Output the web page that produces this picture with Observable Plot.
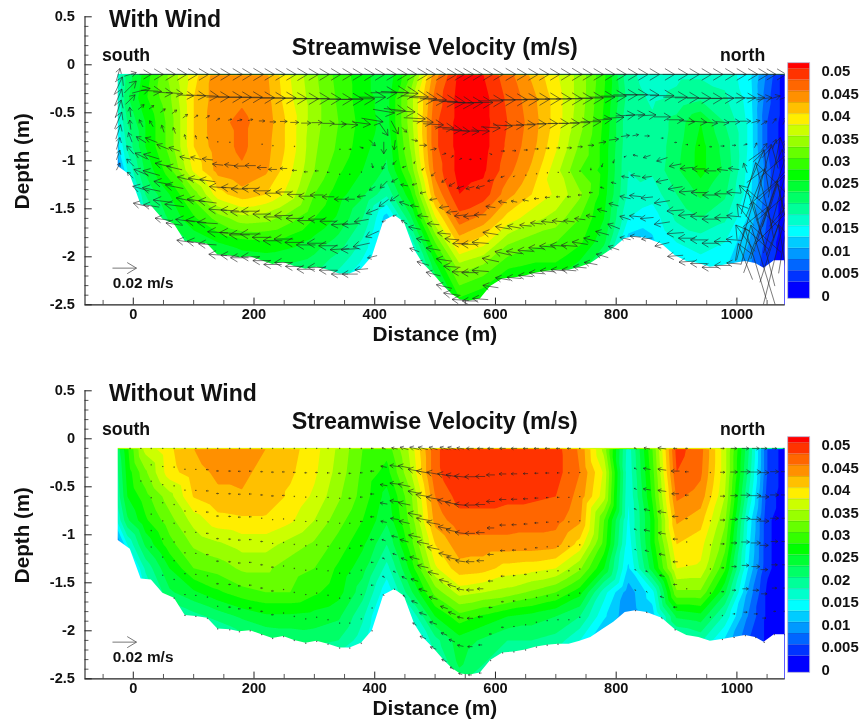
<!DOCTYPE html>
<html><head><meta charset="utf-8">
<script src="https://cdn.jsdelivr.net/npm/d3@7"></script>
<script src="https://cdn.jsdelivr.net/npm/@observablehq/plot@0.6"></script>
<style>
html,body{margin:0;background:#fff}
#root{position:relative;width:862px;height:721px;overflow:hidden}
#root>svg{position:absolute;background:none;filter:blur(0.3px)}
</style></head><body><div id="root"></div>
<script>
// Velocity grid (mm/s): columns at gridX, one row per depth
const gridX=[-30,-10,20,60,100,140,180,220,260,300,340,380,420,460,500,540,580,620,660,700,740,780,820,860,900,940,980,1020,1050,1080];
const gridDepth=[-0.1,-0.35,-0.6,-0.85,-1.1,-1.35,-1.6,-1.85,-2.1,-2.35,-2.5];
const windV=[
[15,21,26,33,39,44,44.5,43,37.5,33,29,26,23,30,44,50.5,50,46,42,38,34,28,18,16.5,17,17,16.5,13.5,7,1],
[14,22,27,32,40,44,44.7,43.5,38,33.5,29.5,26,24,34,46,51,51,47,43.5,39,34,27.5,19,17,18,19.5,18,14,6,1],
[13,20,25,31,40,44.5,45.5,44,39,33.5,30,26.5,24,34,47,51,51,47.5,44,39,33.5,27,18,18,21,25,20,14.5,5,1],
[10,18,25,31,40,44,45.5,43.5,39,33,29.5,26,23,33,47,51,51,47,43.5,38,32,26.5,18,18,21.5,26,21.5,14.5,5,1],
[4,15,23,29,38,43.5,44.7,43,38,32.5,28,25,22,31,46,51,50.5,46,42,36,30,26.5,17.5,18,22,26,22,14,6,1],
[1,9,20,25,31,39,41.5,40,36.5,30,26,23,18,27,43,50,49,43.5,40,37,33,26,17,16,20,23,20.5,13.5,6,1],
[1,4,17,23,27,31,34,33.5,31,27.5,24.5,20,11,22,37,46.5,44,39,36,34,30,25,15,13.5,18,20,18,12,5,1],
[1,2,14,20,23,25,26.5,27,26,24,21.5,17,9,16,30,41,38.5,33,31,30,28,23,11,12,15,16,15,10,4,1],
[1,2,10,15,18,20,22,22.5,22,21,18,14,8,12,24,34,32,28,27,27,24,19,9,10,13,14,13,8,3,1],
[1,1,7,10,12,15,17,17,17,16,14,11,6,9,19,29,27,24,22,21,18,14,7,8,10,11,10,6,2,1],
[1,1,5,8,10,12,14,14,14,13,11,9,5,7,16,26,24,20,18,17,14,11,5,6,8,9,8,5,2,1]];
const calmV=[
[20,27,36,39.5,42.5,44.5,44.8,42.5,41,38.5,34.5,30,28.5,36,47,49.5,49,48.5,48.5,48.5,44.5,34,16,30,48.5,46,36,20,5,1],
[18,26,32,39,41.5,43,43,41.8,40.5,38,34,29.5,26.5,35,47,49,49,49,49,48.5,45,37,15.5,29,47.5,45.5,36,19,5,1],
[17,25,29,34,40.2,42,42.3,41.8,39.5,37,33,29,24,32,45,48.5,48.5,48,48,47.5,44,36,15,28,45.5,44,35,17,4,1],
[14,22,27,31.5,36,39,39.5,39.5,38,35,31,27.5,23,31,43.5,46.5,46.5,46.5,46,46,43,30,14.5,26,43,41,33,14,3,1],
[5,15,23,29,33,34.5,36,36,34,32,29,25.5,20,29,40,44,44,44,44,43.5,39,29,13.5,26,40,38.5,31,13,3,1],
[1,8,18,25,30,31,33,33,31,30,27,23.5,16.5,26,37,41.5,41,39,38.5,37.5,33,25,12,24,37.5,37,28,12,3,1],
[1,6,15,22,24.5,27,29,30,30,28,26,21,13,22,31,36,35,34,32,30,26,16,8.5,14,32,32,23,9,2,1],
[1,3,10,17,19,21,23,24.5,24.5,24,23,18,10,15,25,29,27,25,24,22.5,20,13,8,11,23,24,17,7,2,1],
[1,2,6,12,15,16,18.5,20,20.5,21,20,16,9,12,19,24,22,20,20,19,15,9,6,9,16,18,12,5,2,1],
[1,2,4,8,10,12,14,15,16,16,15,12,8,10,16,23,20,17,16,15,12,8,5,7,12,13,10,4,2,1],
[1,2,3,6,8,10,12,13,14,14,13,10,7,8,14,21,18,15,14,13,10,7,4,6,10,11,8,3,2,1]];

// Measuring stations and river bed depth (m)
const stations=[-25,-5,13,30,49,68,86,104,123,140,160,176,194,213,231,249,267,286,304,323,342,359,378,396,415,433,449,466,480,497,515,528,542,558,575,592,612,631,650,668,686,704,722,740,758,777,796,815,832,851,876,898,917,937,956,976,995,1014,1031,1045,1062,1079];
const bed=[-1.06,-1.15,-1.46,-1.47,-1.61,-1.66,-1.84,-1.85,-1.87,-1.98,-1.99,-2.01,-2.00,-2.04,-2.08,-2.06,-2.10,-2.13,-2.11,-2.14,-2.18,-2.18,-2.13,-2.00,-1.63,-1.57,-1.64,-1.93,-2.07,-2.18,-2.31,-2.39,-2.45,-2.46,-2.44,-2.31,-2.23,-2.22,-2.20,-2.17,-2.15,-2.14,-2.14,-2.11,-2.07,-1.99,-1.91,-1.81,-1.79,-1.81,-1.87,-1.99,-2.05,-2.07,-2.11,-2.09,-2.07,-2.05,-2.07,-2.12,-2.04,-2.04];

// Cross-stream vector components (mm/s) per sigma layer (0 = surface, 8 = bed)
const windU=[
[3,10,17,20,21,21,21,21,21,21,21,21,22,21,21,21,22,21,21,21,21,21,22,21,21,21,21,22,21,21,21,21,22,21,21,21,22,21,21,21,21,21,22,21,21,21,21,21,21,21,21,21,21,21,21,21,21,21,21,20,20,20],
[7,10,15,17,16,14,14,16,18,19,20,20,20,21,21,21,21,21,21,21,21,22,22,22,22,23,23,23,23,22,22,22,22,21,21,21,21,22,22,22,22,22,22,21,21,21,21,20,20,20,20,20,20,20,20,19,18,17,15,13,10,8],
[6,8,5,4,4,4,4,3,3,3,3,4,4,5,5,6,7,8,9,10,11,13,15,18,18,18,18,18,17,17,16,16,15,15,15,16,16,16,16,16,17,17,17,17,17,16,17,16,16,15,14,14,13,13,12,11,10,9,7,5,3,3],
[5,-1,-3,-3,-2,-2,-1,-1,-1,0,0,0,0,1,1,0,1,0,0,0,1,2,3,5,7,6,4,5,6,5,3,2,2,2,1,2,3,3,3,3,3,3,4,4,5,6,8,7,5,4,2,2,2,1,2,3,3,3,2,5,3,2],
[6,-1,-8,-10,-10,-9,-9,-9,-9,-9,-9,-9,-9,-8,-7,-6,-4,-3,-3,-2,-1,-1,0,1,0,-1,-1,-1,-2,-3,-4,-5,-6,-7,-7,-5,-3,-1,1,1,1,0,0,0,0,-1,-1,-2,-4,-6,-9,-10,-11,-11,-10,-9,-9,-3,14,12,10,-4],
[4,-3,-10,-13,-13,-13,-13,-13,-13,-14,-14,-14,-14,-14,-13,-13,-12,-12,-11,-10,-9,-8,-7,-5,-3,-3,-3,-4,-5,-6,-8,-9,-10,-11,-10,-8,-7,-5,-5,-4,-4,-3,-3,-3,-3,-3,-4,-6,-8,-8,-10,-12,-13,-13,-13,-13,-12,-10,16,-14,20,8],
[3,-6,-12,-14,-15,-15,-15,-15,-15,-15,-15,-15,-15,-15,-15,-15,-14,-14,-14,-14,-14,-13,-12,-10,-6,-5,-6,-7,-9,-10,-11,-12,-13,-14,-14,-13,-12,-11,-10,-10,-10,-10,-9,-9,-8,-8,-8,-9,-10,-10,-13,-14,-14,-14,-14,-13,-12,-14,-14,22,18,-12],
[3,-6,-14,-15,-16,-16,-16,-17,-17,-17,-17,-17,-17,-16,-16,-16,-16,-16,-16,-16,-16,-15,-14,-11,-8,-7,-8,-10,-11,-12,-13,-14,-14,-14,-14,-14,-13,-13,-13,-13,-13,-13,-13,-13,-12,-11,-10,-9,-10,-11,-13,-14,-14,-14,-14,-14,-13,-16,20,-18,24,10],
[3,-5,-13,-13,-13,-14,-14,-15,-15,-15,-15,-15,-15,-15,-15,-15,-15,-15,-15,-15,-14,-13,-11,-8,-3,-3,-5,-8,-10,-12,-13,-14,-14,-13,-13,-13,-12,-12,-12,-12,-12,-12,-12,-11,-11,-10,-9,-9,-9,-9,-12,-13,-13,-14,-14,-13,-12,-12,-18,-22,20,-10]];
const windW=[
[10,3,0,0,0,0,0,0,0,0,0,0,0,0,0,0,0,0,0,0,0,0,0,0,0,0,0,0,0,0,0,0,0,0,0,0,0,0,0,0,0,0,0,0,0,0,0,0,0,0,0,0,0,0,0,0,0,0,0,0,0,0],
[15,10,4,-1,-1,-1,-1,-1,-1,0,0,0,0,0,0,0,0,0,0,0,0,0,0,0,0,-1,-1,-1,-1,-1,-1,-1,-1,0,0,0,0,0,0,0,0,0,0,0,0,0,0,0,0,0,0,0,0,0,0,0,0,0,1,2,3,3],
[14,8,4,3,3,3,3,2,2,2,1,1,1,0,0,0,0,0,0,0,0,-1,-2,-3,-3,-2,-1,-1,-1,-1,-1,-1,-1,-1,-1,-1,-1,0,0,0,0,0,0,0,0,1,1,1,1,1,0,0,-1,-1,-1,-1,0,0,2,3,4,6],
[15,8,6,5,6,5,4,3,2,1,1,0,0,0,0,0,0,0,0,0,0,0,-1,-5,-10,-11,-4,-1,0,1,1,2,1,0,-1,-1,0,0,0,0,0,0,0,0,0,1,1,1,1,0,0,0,0,0,0,0,0,1,4,6,8,7],
[14,8,5,4,4,3,2,2,1,1,1,0,0,0,0,0,0,0,0,0,0,0,-1,-4,-10,-8,-2,-2,-2,-3,-3,-3,-2,-2,-2,-1,-1,-1,0,0,0,-1,-1,-1,-2,-3,-3,-1,1,-2,-3,-2,-1,0,0,1,1,8,32,45,50,30],
[12,8,5,4,3,3,3,2,2,1,1,0,0,0,0,0,0,0,0,0,0,0,-1,-3,-5,-3,-1,-1,-1,-1,-1,-1,-1,-1,0,1,1,1,1,0,0,0,0,0,0,1,1,1,1,-1,-2,-2,-1,0,0,0,1,10,40,55,60,40],
[10,7,5,4,3,3,3,2,2,1,1,0,0,0,0,0,0,0,0,0,-1,-1,-2,-4,-6,-3,1,1,1,1,1,1,0,0,1,2,2,2,1,1,1,1,1,1,1,2,2,2,1,-1,-2,-1,-1,0,0,0,1,18,45,65,65,50],
[8,6,4,3,2,2,2,2,1,1,1,0,0,0,0,0,0,0,0,0,-1,-1,-3,-5,-6,-5,3,2,2,2,2,1,0,0,1,3,3,2,1,1,1,1,1,2,3,3,4,3,1,-1,-2,-1,0,0,0,0,1,22,55,70,75,60],
[6,5,3,2,2,2,2,2,1,1,1,0,0,0,0,0,0,0,0,0,0,0,-1,-2,-1,-1,3,3,3,3,3,2,1,0,1,2,2,1,1,1,1,1,1,1,2,3,3,2,1,-1,-3,-1,-1,0,0,0,1,30,60,72,80,60]];
const calmU=[
[0,-1,-1,-1,-1,-1,-1,-1,-1,-1,-1,-1,-1,-1,-1,-1,-1,-1,-1,-1,-1,-1,-1,-2,-3,-5,-7,-8,-8,-7,-7,-7,-6,-6,-5,-5,-5,-5,-4,-4,-4,-3,-3,-1,0,0,0,0,-2,-5,-7,-3,-2,0,1,3,5,6,6,5,4,3],
[0,0,0,-1,-1,-1,-1,-1,-2,-2,-2,-2,-2,-2,-2,-2,-2,-2,-2,-2,-2,-2,-2,-3,-5,-8,-10,-11,-11,-11,-11,-10,-10,-9,-8,-7,-6,-5,-4,-3,-3,-2,-1,-1,0,0,0,0,-2,-6,-7,-7,-3,0,1,4,6,8,9,8,7,6],
[0,0,-1,-1,-1,-1,-1,-1,-2,-2,-2,-2,-2,-2,-2,-2,-1,-1,-1,-1,-1,-2,-2,-3,-6,-8,-10,-11,-12,-12,-11,-11,-10,-9,-8,-7,-6,-5,-4,-3,-2,-2,-1,-1,0,0,0,0,-2,-6,-7,-6,-3,0,1,4,6,8,9,8,7,6],
[0,0,0,-1,-1,-1,-1,-1,-2,-2,-2,-2,-2,-1,-1,-1,-1,-1,-1,-1,-1,-1,-2,-3,-6,-8,-10,-11,-11,-11,-10,-10,-9,-8,-7,-6,-5,-4,-3,-3,-2,-1,-1,-1,0,0,0,0,-2,-5,-7,-5,-2,0,1,4,6,8,9,8,7,5],
[0,0,0,-1,-1,-1,-1,-1,-2,-2,-2,-2,-2,-2,-1,-1,-1,-1,-1,-1,-1,-1,-2,-3,-5,-7,-9,-10,-10,-10,-9,-9,-8,-7,-6,-5,-4,-3,-2,-2,-1,-1,-1,-1,0,0,0,0,-2,-5,-6,-4,-1,0,1,3,5,7,8,7,6,5],
[0,0,0,-1,-1,-1,-1,-1,-2,-2,-2,-2,-2,-2,-2,-1,-1,-1,-1,-1,-1,-1,-1,-2,-3,-5,-7,-8,-9,-9,-8,-7,-6,-6,-5,-4,-3,-2,-2,-1,-1,-1,-1,-1,0,0,0,0,-1,-3,-5,-4,-1,0,1,2,4,6,7,6,5,4],
[0,0,0,-1,-1,-1,-1,-1,-1,-2,-2,-2,-2,-2,-2,-1,-1,-1,-1,-1,-1,-1,-1,-2,-2,-3,-5,-6,-7,-7,-6,-6,-5,-5,-4,-3,-2,-2,-1,-1,-1,-1,-1,-1,0,0,0,0,-1,-2,-4,-3,-1,0,1,2,3,5,5,5,4,3],
[0,0,0,0,-1,-1,-1,-1,-1,-1,-2,-2,-2,-2,-2,-1,-1,-1,-1,-1,-1,-1,-1,-1,-2,-2,-4,-5,-6,-6,-5,-5,-5,-4,-3,-2,-2,-1,-1,-1,-1,-1,-1,-1,0,0,0,0,-1,-1,-3,-3,0,0,1,1,2,3,3,3,2,2],
[0,0,0,0,0,-1,-1,-1,-1,-1,-1,-1,-1,-1,-1,-1,-1,-1,-1,-1,-1,-1,-1,-1,-1,-1,-2,-3,-5,-5,-4,-3,-3,-3,-2,-1,-1,-1,-1,-1,-1,-1,0,0,0,0,0,0,0,-1,-1,-1,0,0,0,1,1,1,1,1,1,1]];
const calmW=[0,0,0,0,0,0,0,0,0,0,0,0,0,0,0,0,0,0,0,0,0,0,0,0,1,1,2,2,2,2,2,2,1,0,0,0,0,0,0,0,0,0,0,0,0,0,0,0,1,1,1,0,0,0,0,0,0,0,0,0,0,0];

const xTicks=[0,200,400,600,800,1000];
const xMinor=[-50,50,100,150,250,300,350,450,500,550,650,700,750,850,900,950,1050];
const yTicks=[0.5,0,-0.5,-1,-1.5,-2,-2.5];
const yMinor=[0.4,0.3,0.2,0.1,-0.1,-0.2,-0.3,-0.4,-0.6,-0.7,-0.8,-0.9,-1.1,-1.2,-1.3,-1.4,-1.6,-1.7,-1.8,-1.9,-2.1,-2.2,-2.3,-2.4];
const levels=[2.5,5,7.5,10,12.5,15,17.5,20,22.5,25,27.5,30,32.5,35,37.5,40,42.5,45,47.5,50];
const contourLevels=[0,...levels];
const bandColors=["#0000ff","#0033ff","#0066ff","#0099ff","#00ccff","#00ffff","#00ffcc","#00ff99","#00ff66","#00ff33","#00ff00","#33ff00","#66ff00","#99ff00","#ccff00","#ffee00","#ffc000","#ff9000","#ff6600","#ff3300","#ff0000"];
const legendLabels=["0","0.005","0.01","0.015","0.02","0.025","0.03","0.035","0.04","0.045","0.05"];
const legendValues=[0,5,10,15,20,25,30,35,40,45,50];

const color={type:"threshold",domain:levels,range:bandColors};
const font={fontFamily:"'Liberation Sans',Arial,sans-serif",fontWeight:"bold",color:"#111",background:"none",overflow:"visible"};
const pxPerM=0.604,pxPerDepth=96,pxPerMM=1.2;

// An arrow (shaft and two wings) centred on its station, as three link segments in data units
function arrowSegments(x,d,u,w){
  const vx=u*pxPerMM,vy=w*pxPerMM,seg=[];
  const tipX=vx/2,tipY=vy/2;
  const toData=(px,py)=>[x+px/pxPerM,d+py/pxPerDepth];
  const add=(ax,ay,bx,by)=>{const [x1,y1]=toData(ax,ay),[x2,y2]=toData(bx,by);seg.push({x1,y1,x2,y2});};
  add(-tipX,-tipY,tipX,tipY);
  for(const a of [0.54,-0.54]){
    const c=Math.cos(a)*0.45,s=Math.sin(a)*0.45;
    add(tipX,tipY,tipX-(vx*c-vy*s),tipY-(vx*s+vy*c));
  }
  return seg;
}
function vectors(Us,getW){
  const out=[];
  Us.forEach((row,k)=>row.forEach((u,i)=>{
    // layers follow the bed: sigma coordinates between the -0.1 m surface row and the bed
    const d=-0.1+(k/8)*(bed[i]+0.1);
    out.push(...arrowSegments(stations[i],d,u,getW(k,i)));
  }));
  return out;
}
function field(rows){
  return rows.flatMap((r,j)=>r.map((v,i)=>({x:gridX[i],y:gridDepth[j],v})));
}
function panel(title,rows,arrowData,top){
  const bedData=[{x:-35,y:bed[0]},...stations.map((x,i)=>({x,y:bed[i]}))];
  const svg=Plot.plot({
    width:862,height:350,marginLeft:84.5,marginRight:77.3,marginTop:16.3,marginBottom:45.7,
    style:font,
    x:{domain:[-80,1080],axis:null},y:{domain:[-2.5,0.5],axis:null},color,
    marks:[
      Plot.contour(field(rows),{x:"x",y:"y",fill:"v",thresholds:contourLevels,interpolate:"barycentric",pixelSize:1,smooth:true}),
      Plot.areaY(bedData,{x:"x",y1:"y",y2:-2.52,fill:"white",curve:"linear"}),
      Plot.rect([{}],{x1:-85,x2:1086,y1:-0.1,y2:0.52,fill:"white"}),
      Plot.rect([{}],{x1:-85,x2:-25,y1:-2.52,y2:0.52,fill:"white"}),
      Plot.rect([{}],{x1:1080,x2:1086,y1:-2.52,y2:0.52,fill:"white"}),
      Plot.link(arrowData,{x1:"x1",y1:"y1",x2:"x2",y2:"y2",stroke:"#222",strokeWidth:0.7,strokeOpacity:0.85,curve:"linear",clip:true}),
      Plot.link(arrowSegments(-14.6,-2.118,20,0),{x1:"x1",y1:"y1",x2:"x2",y2:"y2",stroke:"#555",strokeWidth:0.8,curve:"linear"}),
      Plot.ruleX(xMinor,{y1:-2.5,y2:-2.455,stroke:"#444",strokeWidth:0.9}),
      Plot.ruleX(xTicks,{y1:-2.5,y2:-2.43,stroke:"#222",strokeWidth:1}),
      Plot.ruleY(yMinor,{x1:-80,x2:-73.5,stroke:"#444",strokeWidth:0.9}),
      Plot.ruleY(yTicks,{x1:-80,x2:-68,stroke:"#222",strokeWidth:1}),
      Plot.ruleX([-80],{y1:-2.5,y2:0.5,stroke:"#222",strokeWidth:1.1}),
      Plot.ruleY([-2.5],{x1:-80,x2:1080,stroke:"#222",strokeWidth:1.3}),
      Plot.text(xTicks,{x:d=>d,y:-2.5,dy:9.5,text:d=>String(d),fontSize:14.6,fill:"#111"}),
      Plot.text(yTicks,{x:-80,y:d=>d,dx:-10,textAnchor:"end",text:d=>String(d),fontSize:14.6,fill:"#111"}),
      Plot.text([title],{x:-40.2,y:0.467,text:d=>d,textAnchor:"start",fontSize:23,fill:"#111"}),
      Plot.text(["Streamwise Velocity (m/s)"],{x:499.5,y:0.179,text:d=>d,fontSize:23.3,fill:"#111"}),
      Plot.text(["south"],{x:-51.8,y:0.101,text:d=>d,textAnchor:"start",fontSize:17.7,fill:"#111"}),
      Plot.text(["north"],{x:972,y:0.101,text:d=>d,textAnchor:"start",fontSize:17.7,fill:"#111"}),
      Plot.text(["0.02 m/s"],{x:-34.1,y:-2.274,text:d=>d,textAnchor:"start",fontSize:15.4,fill:"#111"}),
      Plot.text(["Distance (m)"],{x:499.5,y:-2.808,text:d=>d,fontSize:20.8,fill:"#111"}),
      Plot.text(["Depth (m)"],{x:-183.2,y:-1.003,text:d=>d,rotate:-90,fontSize:20.6,fill:"#111"})
    ]
  });
  svg.style.left="0px";svg.style.top=top+"px";
  return svg;
}
function legend(top){
  const edges=[-1.25,...levels,51.25];
  const bands=bandColors.map((c,i)=>({lo:edges[i],hi:edges[i+1],key:i===0?0:levels[i-1]}));
  const svg=Plot.plot({
    width:82,height:280,margin:0,style:font,
    x:{domain:[0,1],range:[7.7,29.7],axis:null},y:{domain:[0,50],range:[252.7,28.3],axis:null},color,
    marks:[
      Plot.rect(bands,{x1:0,x2:1,y1:"lo",y2:"hi",fill:"key"}),
      Plot.ruleY(levels,{x1:0,x2:1,stroke:"#000",strokeOpacity:0.14,strokeWidth:0.8}),
      Plot.rect([{}],{x1:0,x2:1,y1:-1.25,y2:51.25,stroke:"#b9b9d8",strokeWidth:0.8,fill:"none"}),
      Plot.text(legendValues,{x:1.51,y:d=>d,dy:2.7,text:(d,i)=>legendLabels[i],textAnchor:"start",fontSize:14.9,fill:"#111"})
    ]
  });
  svg.style.left="780px";svg.style.top=top+"px";
  return svg;
}
const root=document.getElementById("root");
root.append(
  panel("With Wind",windV,vectors(windU,(k,i)=>windW[k][i]),0),
  legend(40),
  panel("Without Wind",calmV,vectors(calmU,(k,i)=>calmW[i]),373.5),
  legend(413.5)
);
</script></body></html>
